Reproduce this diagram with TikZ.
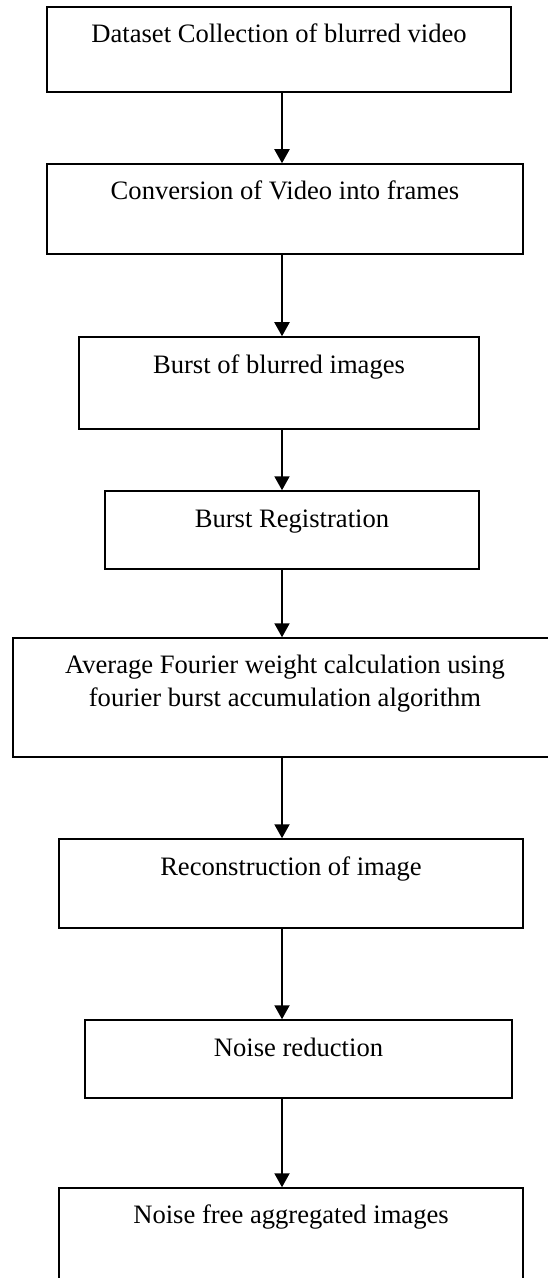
\documentclass[tikz,border=0pt]{standalone}
\usepackage{fontspec}
\setmainfont{Liberation Serif}
\usetikzlibrary{arrows.meta}
\begin{document}
\begin{tikzpicture}[x=0.5pt,y=-0.5pt,
  box/.style={draw=black, line width=0.75pt, rectangle, inner sep=0pt, fill=none},
  txt/.style={anchor=base, inner sep=0pt, align=center, font=\fontsize{13.3}{16.5}\selectfont},
  arr/.style={line width=1pt, -{Triangle[length=7pt,width=7.5pt]}}]
\useasboundingbox (0,0) rectangle (547,1278);
\coordinate (ax) at (282,0);
\node[box, minimum width=232pt, minimum height=42.5pt] (b1) at (279,49.5) {};
\node[box, minimum width=238pt, minimum height=45pt] (b2) at (285,209) {};
\node[box, minimum width=200pt, minimum height=46pt] (b3) at (279,383) {};
\node[box, minimum width=187pt, minimum height=39pt] (b4) at (292,530) {};
\node[box, minimum width=272pt, minimum height=59.5pt] (b5) at (285,697.5) {};
\node[box, minimum width=232pt, minimum height=44.5pt] (b6) at (291,883.5) {};
\node[box, minimum width=213.5pt, minimum height=39pt] (b7) at (298.5,1059) {};
\node[box, minimum width=232pt, minimum height=52pt] (b8) at (291,1240) {};
\node[txt] (t1) at ([yshift=-18.15pt]b1.north) {Dataset Collection of blurred video};
\node[txt] (t2) at ([yshift=-18pt]b2.north) {Conversion of Video into frames};
\node[txt] (t3) at ([yshift=-18.5pt]b3.north) {Burst of blurred images};
\node[txt] (t4) at ([yshift=-18.5pt]b4.north) {Burst Registration};
\node[txt] (t5) at ([yshift=-34.5pt]b5.north) {Average Fourier weight calculation using\\fourier burst accumulation algorithm};
\node[txt] (t6) at ([yshift=-18.5pt]b6.north) {Reconstruction of image};
\node[txt] (t7) at ([yshift=-18.5pt]b7.north) {Noise reduction};
\node[txt] (t8) at ([yshift=-18pt]b8.north) {Noise free aggregated images};
\draw[arr] (b1.south -| ax) -- (b2.north -| ax);
\draw[arr] (b2.south -| ax) -- (b3.north -| ax);
\draw[arr] (b3.south -| ax) -- (b4.north -| ax);
\draw[arr] (b4.south -| ax) -- (b5.north -| ax);
\draw[arr] (b5.south -| ax) -- (b6.north -| ax);
\draw[arr] (b6.south -| ax) -- (b7.north -| ax);
\draw[arr] (b7.south -| ax) -- (b8.north -| ax);
\end{tikzpicture}
\end{document}
